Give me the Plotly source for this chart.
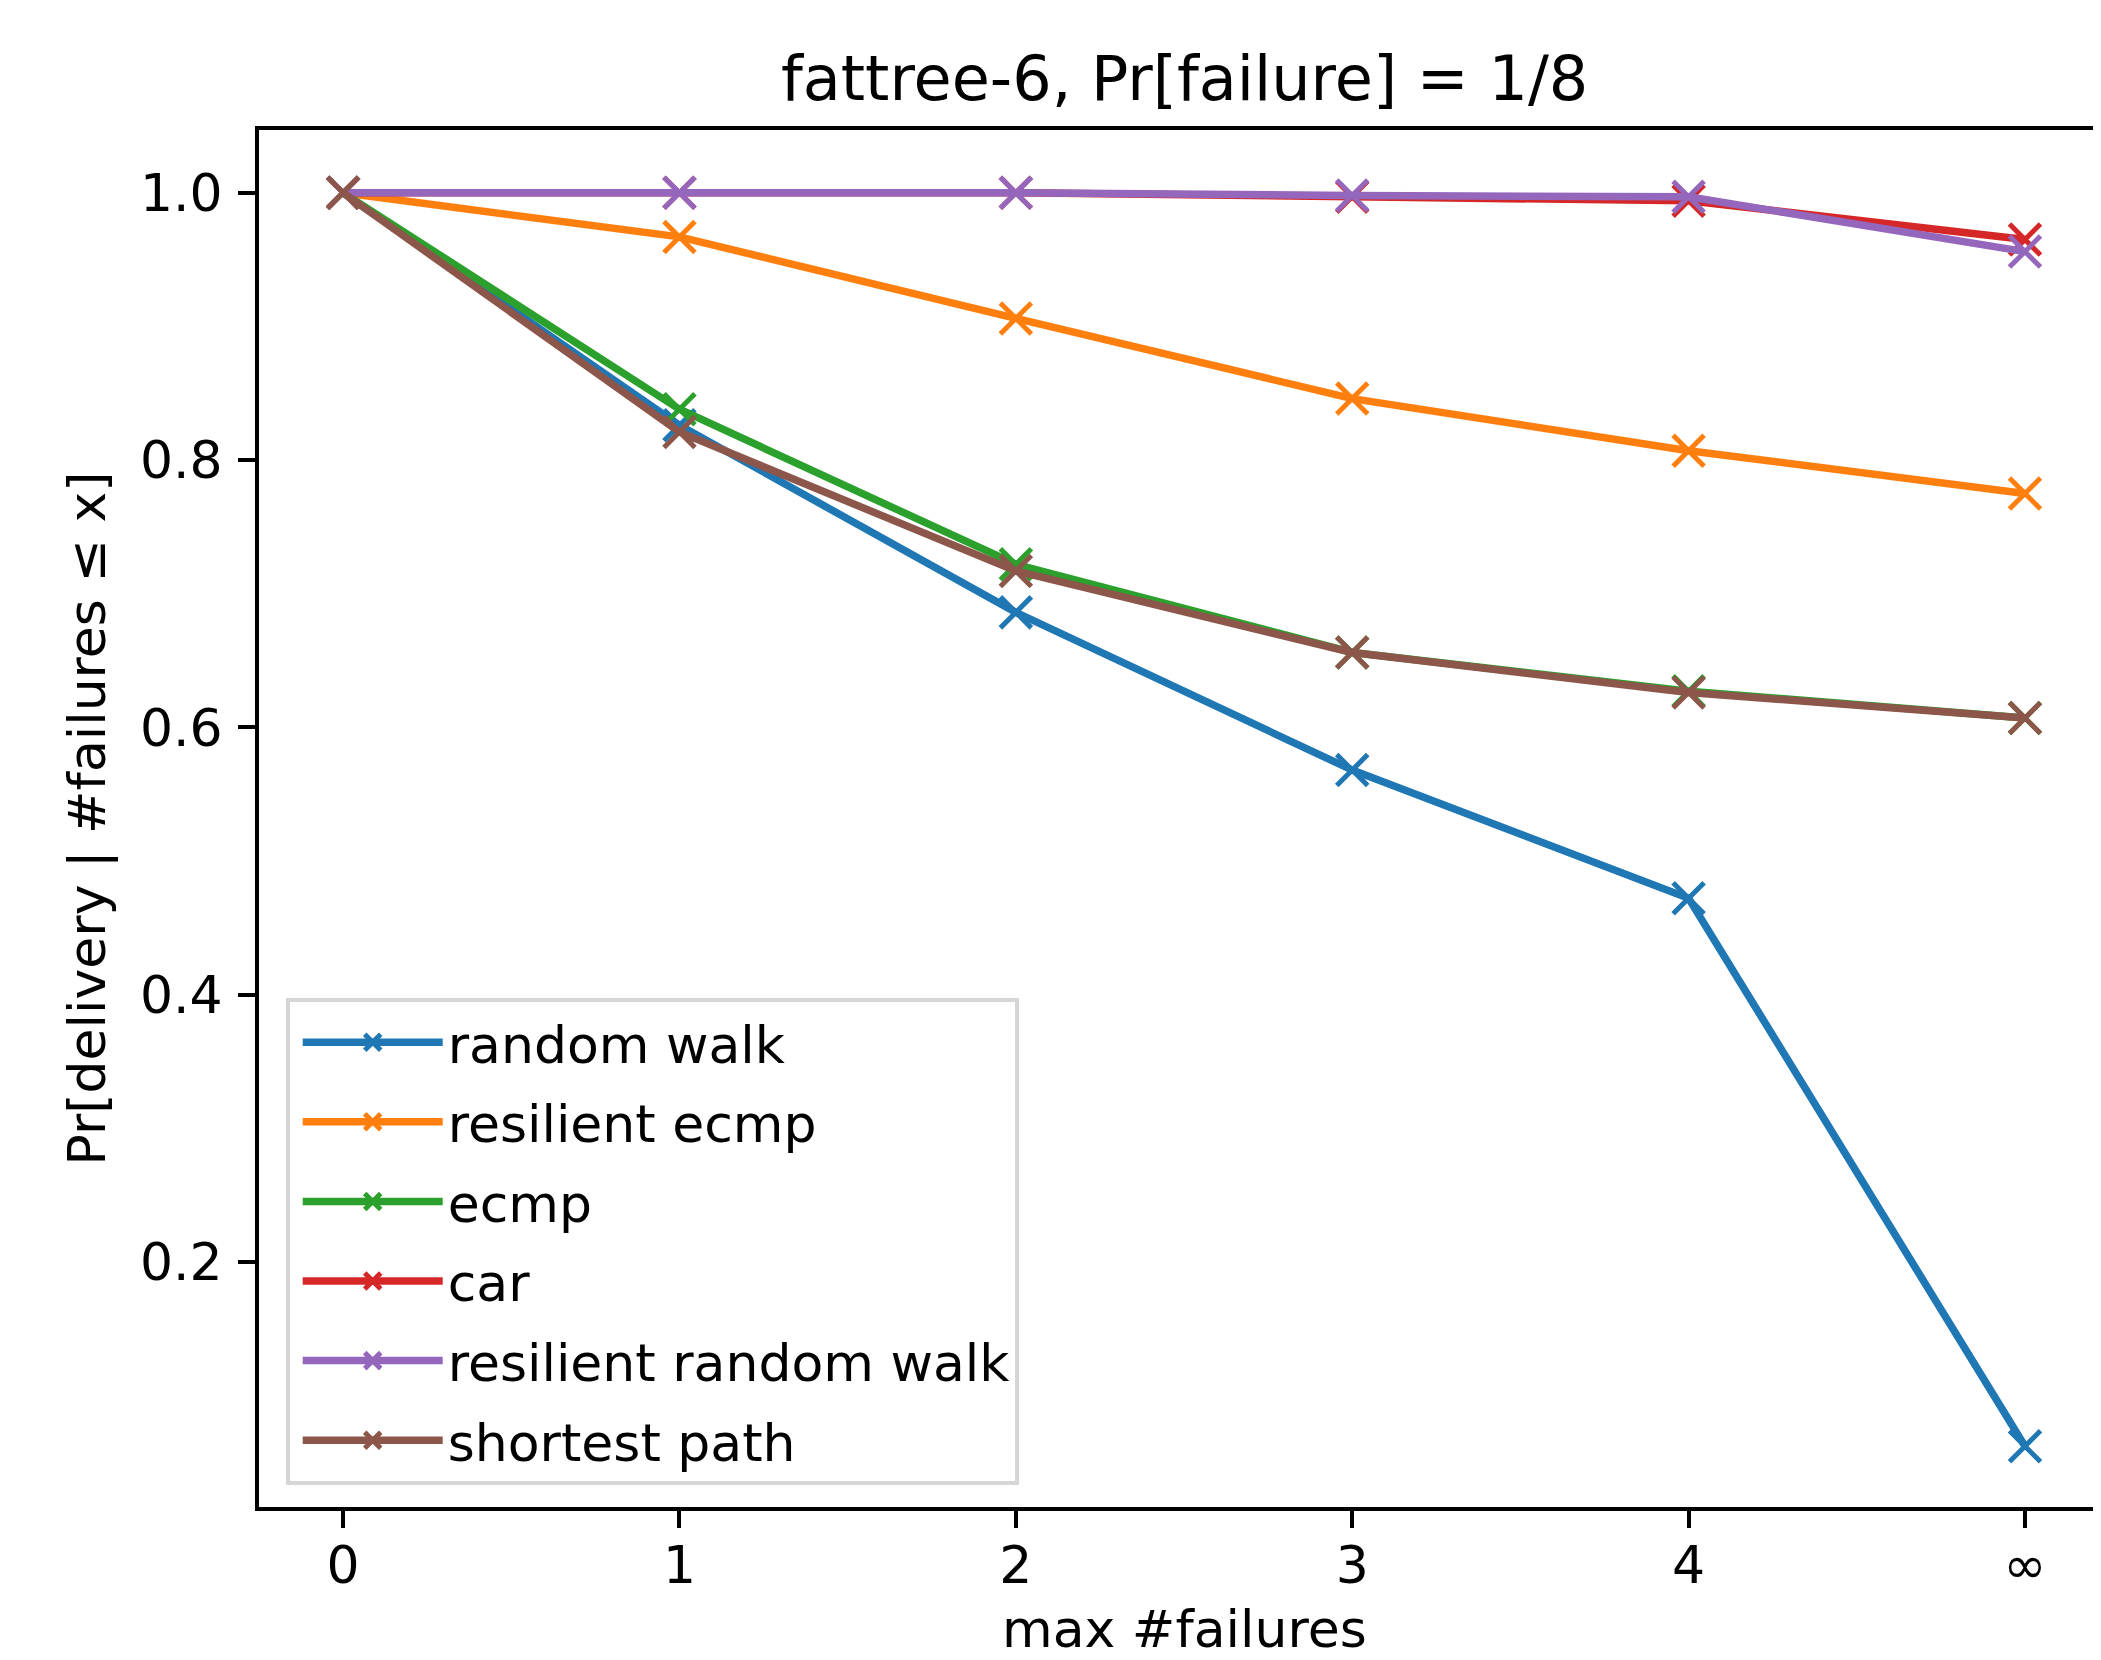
import plotly.graph_objects as go

x_labels = ["0", "1", "2", "3", "4", "∞"]

random_walk = [1.0, 0.826, 0.686, 0.568, 0.472, 0.062]
resilient_ecmp = [1.0, 0.967, 0.906, 0.846, 0.807, 0.775]
ecmp = [1.0, 0.838, 0.722, 0.656, 0.627, 0.607]
car = [1.0, 1.0, 1.0, 0.997, 0.994, 0.965]
resilient_random_walk = [1.0, 1.0, 1.0, 0.998, 0.997, 0.956]
shortest_path = [1.0, 0.821, 0.717, 0.656, 0.626, 0.607]

series_names = ["random walk", "resilient ecmp", "ecmp", "car",
                "resilient random walk", "shortest path"]
series_values = [random_walk, resilient_ecmp, ecmp, car,
                 resilient_random_walk, shortest_path]
colors = ["#1f77b4", "#ff7f0e", "#2ca02c", "#d62728", "#9467bd", "#8c564b"]

# page body has an 8px default margin; size the figure so it fills the window
W, H = 2093, 1652
L, T = 251, 122
B = H - 1499
FONT = "DejaVu Sans"
FS = 52

fig = go.Figure()
for i, (name, vals, c) in enumerate(zip(series_names, series_values, colors)):
    fig.add_trace(go.Scatter(
        x=x_labels, y=vals, name=name, mode="lines+markers",
        legendgroup=f"g{i}",
        line=dict(color=c, width=7.5),
        marker=dict(symbol="x-thin", size=31, color=c,
                    line=dict(color=c, width=5)),
    ))

fig.update_layout(
    width=W, height=H,
    margin=dict(l=L, r=0, t=T, b=B, autoexpand=False),
    paper_bgcolor="white", plot_bgcolor="white",
    font=dict(family=FONT, size=FS, color="black"),
    title=dict(text="fattree-6, Pr[failure] = 1/8", font=dict(size=62, family=FONT),
               x=0.5025, xref="paper", xanchor="center",
               y=1 - 70 / H, yref="container", yanchor="middle"),
    showlegend=True,
    legend=dict(x=0.0145, y=0.3697, xanchor="left", yanchor="top",
                bgcolor="rgba(255,255,255,0.8)", bordercolor="#d6d6d6",
                borderwidth=4, font=dict(size=FS, family=FONT),
                tracegroupgap=9, itemwidth=140, indentation=8),
)

fig.update_xaxes(
    type="category", range=[-0.25, 5.226],
    showline=True, linecolor="black", linewidth=4, mirror=True,
    ticks="outside", ticklen=17, tickwidth=4, tickcolor="black",
    showgrid=False, zeroline=False,
    tickfont=dict(size=FS, family=FONT),
    ticklabelstandoff=-7,
    automargin=False,
)
fig.update_yaxes(
    range=[0.0165, 1.047],
    tickvals=[0.2, 0.4, 0.6, 0.8, 1.0], ticktext=["0.2", "0.4", "0.6", "0.8", "1.0"],
    showline=True, linecolor="black", linewidth=4, mirror=False,
    ticks="outside", ticklen=17, tickwidth=4, tickcolor="black",
    showgrid=False, zeroline=False,
    tickfont=dict(size=FS, family=FONT),
    ticklabelstandoff=5,
    automargin=False,
)

# axis titles
fig.add_annotation(text="max #failures", xref="paper", yref="paper",
                   x=0.5025, y=0, xanchor="center", yanchor="middle",
                   yshift=-122, showarrow=False, font=dict(size=FS, family=FONT))
fig.add_annotation(text="Pr[delivery | #failures ≤ x]", xref="paper", yref="paper",
                   x=0, y=0.5, xanchor="center", yanchor="middle", textangle=-90,
                   xshift=-172, showarrow=False, font=dict(size=FS, family=FONT))

fig.write_html("out.html")
